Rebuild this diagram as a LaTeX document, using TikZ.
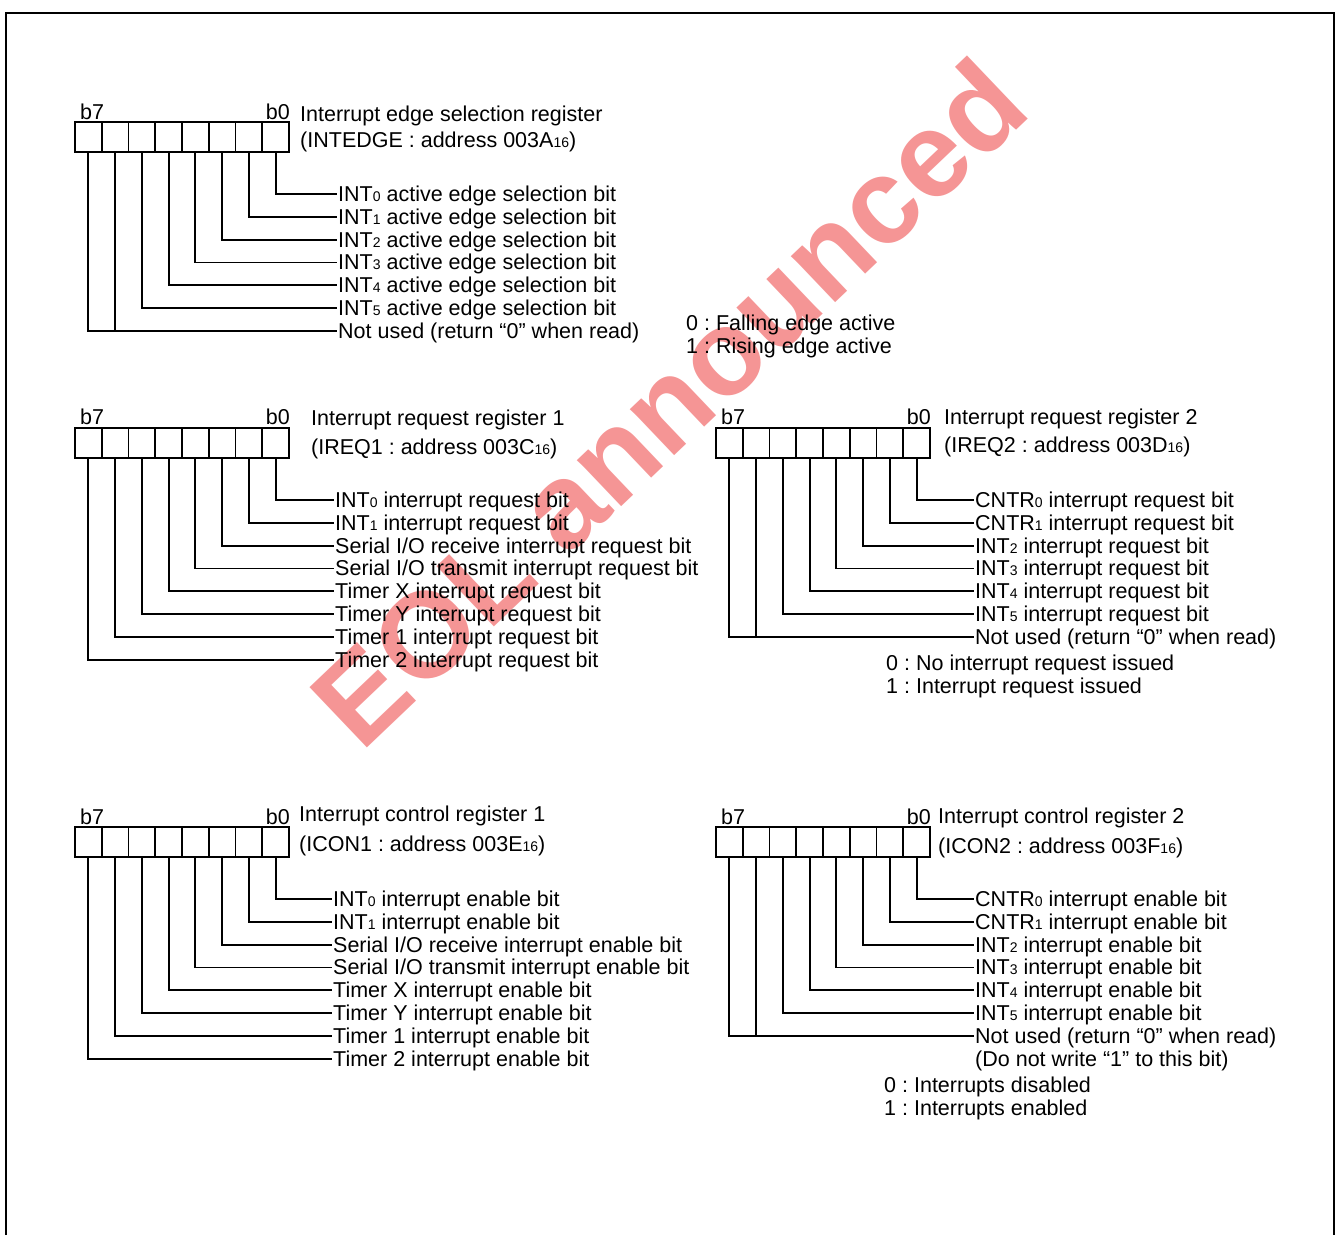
\documentclass[tikz,border=0pt]{standalone}
\usepackage{fontspec}
\setmainfont{Liberation Sans}
\usetikzlibrary{positioning,calc}
\newcommand{\sbs}[1]{{\fontsize{14}{14}\selectfont #1}}
\frenchspacing

\begin{document}
\begin{tikzpicture}[x=1pt,y=-1pt,inner sep=0pt,
	font=\fontsize{21.5}{25}\selectfont,
	cell/.style={draw,line width=1.8pt,minimum width=26.75pt,minimum height=30pt,outer sep=0pt},
	lbl/.style={anchor=west,inner sep=1pt,text height=15pt,text depth=0pt},
	txt/.style={anchor=west},
	wire/.style={line width=1.8pt}]
	\useasboundingbox (0,0) rectangle (1337,1235);
	% watermark
	\node[rotate=43.6,text={rgb,255:red,232;green,20;blue,20},opacity=0.45,
		font=\fontsize{121}{121}\selectfont\bfseries] (wm) at (668,402) {EOL announced};
	% frame
	\draw[line width=2.6pt] (6,1235) -- (6,13) -- (1334,13) -- (1334,1235);

	% INTEDGE
	\foreach \i in {0,...,7}
		\node[cell] (e\i) at ({75+26.75*(7-\i)+13.375},137) {};
	\node[anchor=base west] (eb7) at (80,119) {b7};
	\node[anchor=base east] (eb0) at (290,119) {b0};
	\node[txt] (et1) at (300,116) {Interrupt edge selection register};
	\node[txt] (et2) at (300,142) {(INTEDGE : address 003A\sbs{16})};
	\foreach \t [count=\i from 0] in {{INT\sbs{0} active edge selection bit},
		{INT\sbs{1} active edge selection bit},{INT\sbs{2} active edge selection bit},
		{INT\sbs{3} active edge selection bit},{INT\sbs{4} active edge selection bit},
		{INT\sbs{5} active edge selection bit},{Not used (return “0” when read)}}
		\node[lbl] (el\i) at (337,{194+22.8*\i}) {\t};
	\foreach \i in {0,...,5}
		\draw[wire] (e\i.south) |- (el\i.west);
	\draw[wire] (e7.south) |- (el6.west);
	\draw[wire] (e6.south) -- (e6.south |- el6.west);
	\node[txt] (en0) at (686,325) {0 : Falling edge active};
	\node[txt] (en1) at (686,348) {1 : Rising edge active};

	% IREQ1
	\foreach \i in {0,...,7}
		\node[cell] (r\i) at ({75+26.75*(7-\i)+13.375},443) {};
	\node[anchor=base west] (rb7) at (80,424) {b7};
	\node[anchor=base east] (rb0) at (290,424) {b0};
	\node[txt] (rt1) at (311,420) {Interrupt request register 1};
	\node[txt] (rt2) at (311,449) {(IREQ1 : address 003C\sbs{16})};
	\foreach \t [count=\i from 0] in {{INT\sbs{0} interrupt request bit},
		{INT\sbs{1} interrupt request bit},{Serial I/O receive interrupt request bit},
		{Serial I/O transmit interrupt request bit},{Timer X interrupt request bit},
		{Timer Y interrupt request bit},{Timer 1 interrupt request bit},
		{Timer 2 interrupt request bit}}
		\node[lbl] (rl\i) at (334,{500+22.8*\i}) {\t};
	\foreach \i in {0,...,7}
		\draw[wire] (r\i.south) |- (rl\i.west);

	% IREQ2
	\foreach \i in {0,...,7}
		\node[cell] (q\i) at ({716+26.75*(7-\i)+13.375},443) {};
	\node[anchor=base west] (qb7) at (721,424) {b7};
	\node[anchor=base east] (qb0) at (931,424) {b0};
	\node[txt] (qt1) at (944,419) {Interrupt request register 2};
	\node[txt] (qt2) at (944,447) {(IREQ2 : address 003D\sbs{16})};
	\foreach \t [count=\i from 0] in {{CNTR\sbs{0} interrupt request bit},
		{CNTR\sbs{1} interrupt request bit},{INT\sbs{2} interrupt request bit},
		{INT\sbs{3} interrupt request bit},{INT\sbs{4} interrupt request bit},
		{INT\sbs{5} interrupt request bit},{Not used (return “0” when read)}}
		\node[lbl] (ql\i) at (974,{500+22.8*\i}) {\t};
	\foreach \i in {0,...,5}
		\draw[wire] (q\i.south) |- (ql\i.west);
	\draw[wire] (q7.south) |- (ql6.west);
	\draw[wire] (q6.south) -- (q6.south |- ql6.west);
	\node[txt] (qn0) at (886,665) {0 : No interrupt request issued};
	\node[txt] (qn1) at (886,688) {1 : Interrupt request issued};

	% ICON1
	\foreach \i in {0,...,7}
		\node[cell] (c\i) at ({75+26.75*(7-\i)+13.375},842) {};
	\node[anchor=base west] (cb7) at (80,824) {b7};
	\node[anchor=base east] (cb0) at (290,824) {b0};
	\node[txt] (ct1) at (299,816) {Interrupt control register 1};
	\node[txt] (ct2) at (299,846) {(ICON1 : address 003E\sbs{16})};
	\foreach \t [count=\i from 0] in {{INT\sbs{0} interrupt enable bit},
		{INT\sbs{1} interrupt enable bit},{Serial I/O receive interrupt enable bit},
		{Serial I/O transmit interrupt enable bit},{Timer X interrupt enable bit},
		{Timer Y interrupt enable bit},{Timer 1 interrupt enable bit},
		{Timer 2 interrupt enable bit}}
		\node[lbl] (cl\i) at (332,{899+22.8*\i}) {\t};
	\foreach \i in {0,...,7}
		\draw[wire] (c\i.south) |- (cl\i.west);

	% ICON2
	\foreach \i in {0,...,7}
		\node[cell] (d\i) at ({716+26.75*(7-\i)+13.375},842) {};
	\node[anchor=base west] (db7) at (721,824) {b7};
	\node[anchor=base east] (db0) at (931,824) {b0};
	\node[txt] (dt1) at (938,818) {Interrupt control register 2};
	\node[txt] (dt2) at (938,848) {(ICON2 : address 003F\sbs{16})};
	\foreach \t [count=\i from 0] in {{CNTR\sbs{0} interrupt enable bit},
		{CNTR\sbs{1} interrupt enable bit},{INT\sbs{2} interrupt enable bit},
		{INT\sbs{3} interrupt enable bit},{INT\sbs{4} interrupt enable bit},
		{INT\sbs{5} interrupt enable bit},{Not used (return “0” when read)}}
		\node[lbl] (dl\i) at (974,{899+22.8*\i}) {\t};
	\foreach \i in {0,...,5}
		\draw[wire] (d\i.south) |- (dl\i.west);
	\draw[wire] (d7.south) |- (dl6.west);
	\draw[wire] (d6.south) -- (d6.south |- dl6.west);
	\node[lbl,below right=5.8pt and 0pt of dl6.south west] (dl7) {(Do not write “1” to this bit)};
	\node[txt] (dn0) at (884,1087) {0 : Interrupts disabled};
	\node[txt] (dn1) at (884,1110) {1 : Interrupts enabled};
\end{tikzpicture}
\end{document}
